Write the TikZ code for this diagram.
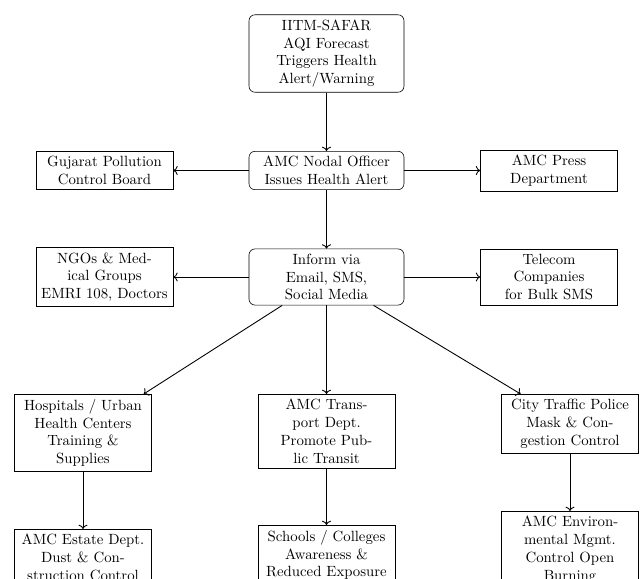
\documentclass[tikz,border=0pt]{standalone}
\usetikzlibrary{arrows.meta}
\begin{document}
\begin{tikzpicture}[x=0.6757pt,y=-0.6757pt,
  mainbox/.style={draw, rounded corners=4pt, align=center, minimum width=104.7pt, inner sep=3.33pt},
  sidebox/.style={draw, align=center, minimum width=92.6pt, inner sep=3.33pt},
  conn/.style={->, semithick}]
\useasboundingbox (0,0) rectangle (641,579);
\node[mainbox] (top) at (326.5,53.5) {IITM-SAFAR\\AQI Forecast\\Triggers Health\\Alert/Warning};
\node[mainbox] (nodal) at (326.5,170.5) {AMC Nodal Officer\\Issues Health Alert};
\node[sidebox] (guj) at (104.5,170.5) {Gujarat Pollution\\Control Board};
\node[sidebox] (press) at (549,170.5) {AMC Press\\Department};
\node[mainbox] (inform) at (326.5,277) {Inform via\\Email, SMS,\\Social Media};
\node[sidebox] (ngo) at (104.5,277) {NGOs \& Med-\\ical Groups\\EMRI 108, Doctors};
\node[sidebox] (tel) at (549,277) {Telecom\\Companies\\for Bulk SMS};
\node[sidebox, anchor=north] (hosp) at (83,394) {Hospitals / Urban\\Health Centers\\Training \&\\Supplies};
\node[sidebox, anchor=north] (trans) at (326.5,394) {AMC Trans-\\port Dept.\\Promote Pub-\\lic Transit};
\node[sidebox, anchor=north] (traffic) at (570,394) {City Traffic Police\\Mask \& Con-\\gestion Control};
\node[sidebox, anchor=north] (estate) at (83,529) {AMC Estate Dept.\\Dust \& Con-\\struction Control};
\node[sidebox, anchor=north] (school) at (326.5,525) {Schools / Colleges\\Awareness \&\\Reduced Exposure};
\node[sidebox, anchor=north] (env) at (570,511) {AMC Environ-\\mental Mgmt.\\Control Open\\Burning};
\draw[conn] (top) -- (nodal);
\draw[conn] (nodal) -- (guj);
\draw[conn] (nodal) -- (press);
\draw[conn] (nodal) -- (inform);
\draw[conn] (inform) -- (ngo);
\draw[conn] (inform) -- (tel);
\draw[conn] (inform) -- (hosp);
\draw[conn] (inform) -- (trans);
\draw[conn] (inform) -- (traffic);
\draw[conn] (hosp) -- (estate);
\draw[conn] (trans) -- (school);
\draw[conn] (traffic) -- (env);
\end{tikzpicture}
\end{document}
